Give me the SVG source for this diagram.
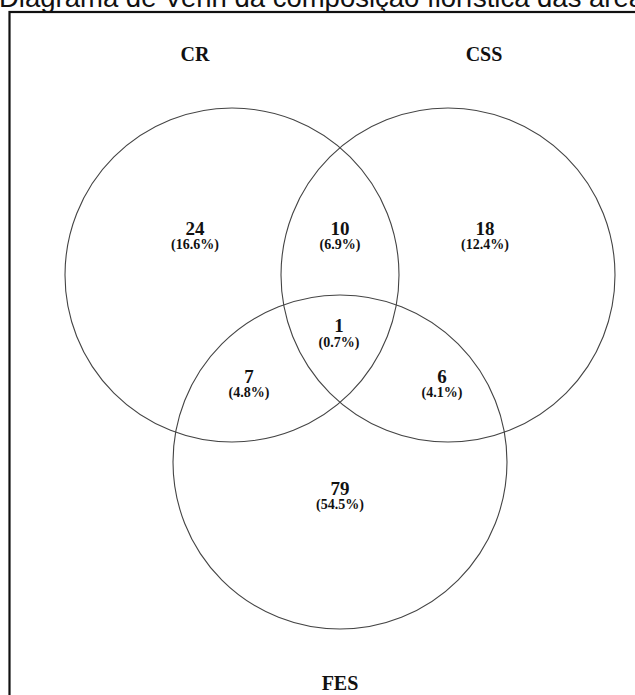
<svg xmlns="http://www.w3.org/2000/svg" width="635" height="695" viewBox="0 0 635 695">
<style>
.title{font-family:"Liberation Sans",Arial,sans-serif;font-size:27.5px;fill:#111}
.frame{fill:none;stroke:#111;stroke-width:2.2}
.set{fill:none;stroke:#444;stroke-width:1.1}
.lbl{font-family:"Liberation Serif","Times New Roman",serif;font-weight:bold;font-size:20px;fill:#111;text-anchor:middle}
.num{font-family:"Liberation Serif","Times New Roman",serif;font-weight:bold;font-size:19px;fill:#111;text-anchor:middle}
.pct{font-family:"Liberation Serif","Times New Roman",serif;font-weight:bold;font-size:14px;fill:#111;text-anchor:middle}
</style>
<rect width="635" height="695" fill="#fff"/>
<text class="title" x="-1" y="7">Diagrama de Venn da composição florística das áreas</text>
<rect class="frame" x="9.5" y="12" width="660" height="720"/>
<g id="set-CR">
<circle class="set" cx="232" cy="275" r="167"/>
<text class="lbl" x="195" y="61">CR</text>
</g>
<g id="set-CSS">
<circle class="set" cx="448" cy="275" r="167"/>
<text class="lbl" x="484" y="61">CSS</text>
</g>
<g id="set-FES">
<circle class="set" cx="340" cy="462" r="167"/>
<text class="lbl" x="340" y="690">FES</text>
</g>
<g id="regions">
<g id="r-CR"><text class="num" x="195" y="235">24</text><text class="pct" x="195" y="249">(16.6%)</text></g>
<g id="r-CR-CSS"><text class="num" x="340" y="235">10</text><text class="pct" x="340" y="249">(6.9%)</text></g>
<g id="r-CSS"><text class="num" x="485" y="235">18</text><text class="pct" x="485" y="249">(12.4%)</text></g>
<g id="r-all"><text class="num" x="339" y="332">1</text><text class="pct" x="339" y="347">(0.7%)</text></g>
<g id="r-CR-FES"><text class="num" x="249" y="383">7</text><text class="pct" x="249" y="397">(4.8%)</text></g>
<g id="r-CSS-FES"><text class="num" x="442" y="383">6</text><text class="pct" x="442" y="397">(4.1%)</text></g>
<g id="r-FES"><text class="num" x="340" y="495">79</text><text class="pct" x="340" y="509">(54.5%)</text></g>
</g>
<g id="connectors"/>
</svg>
